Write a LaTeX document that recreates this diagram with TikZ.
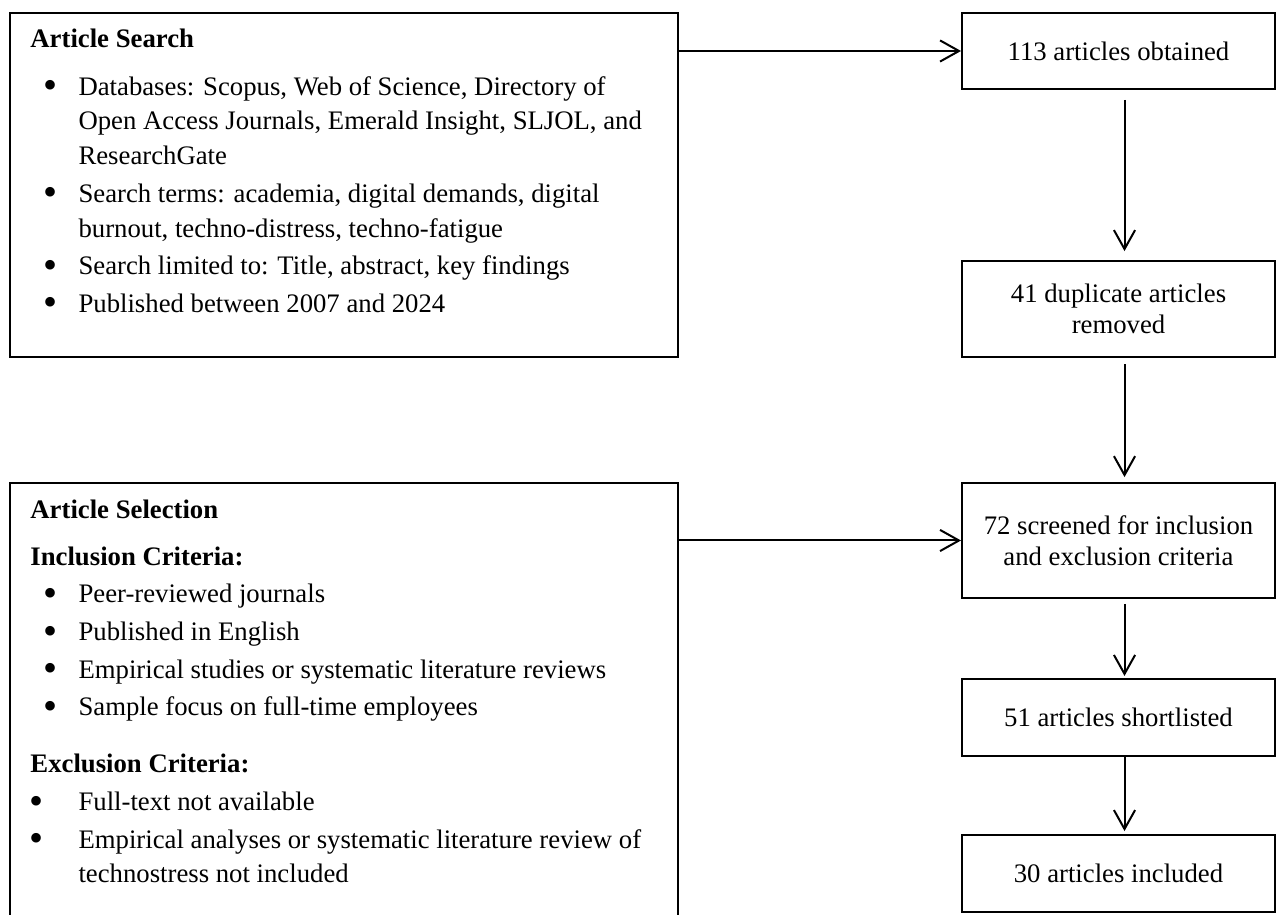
\documentclass[tikz,border=0pt]{standalone}
\usepackage{fontspec}
\setmainfont{Liberation Serif}
\usetikzlibrary{arrows.meta,fit}

\newenvironment{bul}[1]{\begin{list}{\makebox[0pt]{\raisebox{-1.6pt}{\fontsize{18}{18}\selectfont\textbullet}}}{%
	\setlength{\leftmargin}{21.6pt}\setlength{\labelsep}{#1}%
	\setlength{\labelwidth}{0pt}%
	\setlength{\topsep}{0pt}\setlength{\partopsep}{0pt}%
	\setlength{\itemsep}{1.3pt}\setlength{\parsep}{0pt}}}{\end{list}}

\tikzset{
	frame/.style={draw, line width=0.9pt, inner sep=0pt},
	box/.style={draw, line width=0.9pt, inner sep=0pt, align=center, minimum width=140.5pt, font=\fontsize{12}{13.8}\selectfont},
	txt/.style={anchor=base west, inner sep=0pt, font=\fontsize{12}{15.6}\selectfont},
	flow/.style={line width=0.9pt, -{Straight Barb[length=8.5pt, width=9.5pt]}}
}

\begin{document}
\begin{tikzpicture}[x=0.449pt, y=-0.449pt]
	\useasboundingbox (0, 0) rectangle (1277, 915);
	% Boxes:
	\node[frame, fit={(10, 13) (678, 357)}] (search) {};
	\node[frame, fit={(10, 483) (678, 922)}] (select) {};
	\node[box, minimum height=34.1pt] (obtained) at (1118.5, 51) {113 articles obtained};
	\node[box, minimum height=43.1pt] (removed) at (1118.5, 309) {41 duplicate articles\\removed};
	\node[box, minimum height=51.6pt] (screened) at (1118.5, 540.5) {72 screened for inclusion\\and exclusion criteria};
	\node[box, minimum height=34.6pt] (shortlisted) at (1118.5, 717.5) {51 articles shortlisted};
	\node[box, minimum height=34.6pt] (included) at (1118.5, 873.5) {30 articles included};
	% Texts in the big boxes:
	\node[txt] (searchtxt) at (30, 48) {\begin{minipage}[t]{300pt}
		\textbf{Article Search}\par\vspace{5.6pt}
		\begin{bul}{12.8pt}
			\item Databases: Scopus, Web of Science, Directory of\\Open Access Journals, Emerald Insight, SLJOL, and\\ResearchGate
			\item Search terms: academia, digital demands, digital\\burnout, techno-distress, techno-fatigue
			\item Search limited to: Title, abstract, key findings
			\item Published between 2007 and 2024
		\end{bul}
	\end{minipage}};
	\node[txt] (selecttxt) at (30, 519) {\begin{minipage}[t]{300pt}
		\textbf{Article Selection}\par\vspace{5.2pt}
		\textbf{Inclusion Criteria:}\par\vspace{1.3pt}
		\begin{bul}{12.8pt}
			\item Peer-reviewed journals
			\item Published in English
			\item Empirical studies or systematic literature reviews
			\item Sample focus on full-time employees
		\end{bul}
		\vspace{9.8pt}
		\textbf{Exclusion Criteria:}\par\vspace{1.5pt}
		\begin{bul}{18.9pt}
			\item Full-text not available
			\item Empirical analyses or systematic literature review of\\technostress not included
		\end{bul}
	\end{minipage}};
	% Arrows:
	\draw[flow] (search.east |- obtained.west) -- (obtained.west);
	\draw[flow] (select.east |- screened.west) -- (screened.west);
	\draw[flow, shorten <=4.5pt, shorten >=4pt] ([xshift=2.7pt]obtained.south) -- ([xshift=2.7pt]removed.north);
	\draw[flow, shorten <=2.7pt, shorten >=2.2pt] ([xshift=2.7pt]removed.south) -- ([xshift=2.7pt]screened.north);
	\draw[flow, shorten <=2.2pt, shorten >=0.9pt] ([xshift=2.7pt]screened.south) -- ([xshift=2.7pt]shortlisted.north);
	\draw[flow, shorten >=1.3pt] ([xshift=2.7pt]shortlisted.south) -- ([xshift=2.7pt]included.north);
\end{tikzpicture}
\end{document}
